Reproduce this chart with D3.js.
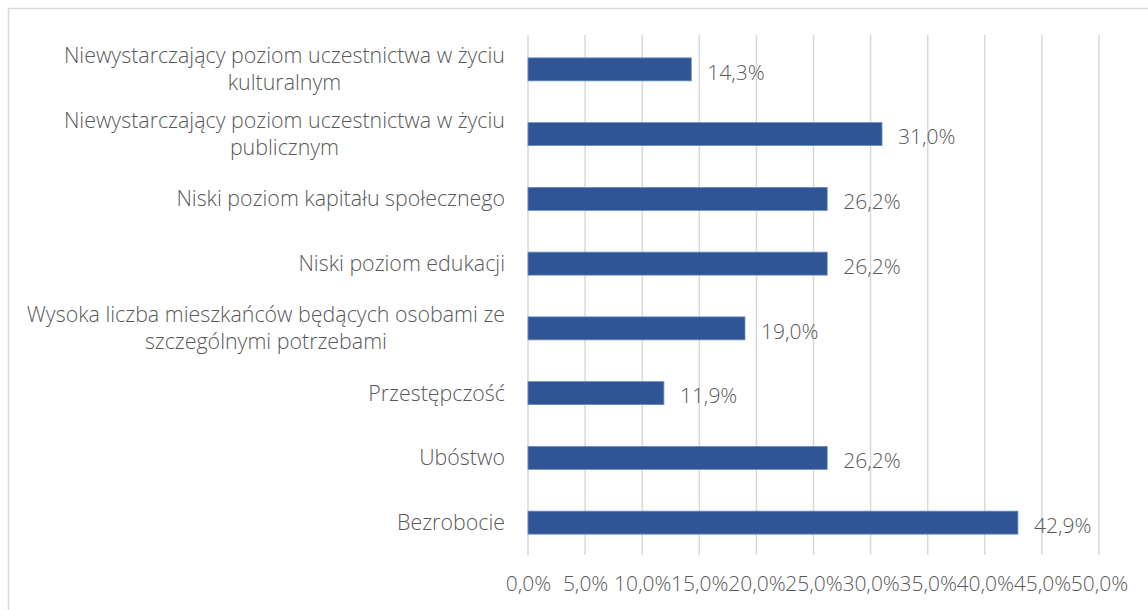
<!DOCTYPE html>
<html>
<head>
<meta charset="utf-8">
<script src="https://cdn.jsdelivr.net/npm/d3@7"></script>
<style>
  html, body { margin: 0; padding: 0; background: #fff; }
  svg { display: block; }
  text { font-family: "Open Sans", "Noto Sans", sans-serif; fill: #595959; font-weight: 300; }
</style>
</head>
<body>
<svg id="chart" width="1148" height="610"></svg>
<script>
const categories = [
  ["Niewystarczający poziom uczestnictwa w życiu", "kulturalnym"],
  ["Niewystarczający poziom uczestnictwa w życiu", "publicznym"],
  ["Niski poziom kapitału społecznego"],
  ["Niski poziom edukacji"],
  ["Wysoka liczba mieszkańców będących osobami ze", "szczególnymi potrzebami"],
  ["Przestępczość"],
  ["Ubóstwo"],
  ["Bezrobocie"]
];
const values = [14.3, 31.0, 26.2, 26.2, 19.0, 11.9, 26.2, 42.9];
const xTicks = [0, 5, 10, 15, 20, 25, 30, 35, 40, 45, 50];

const fmt = v => d3.format(".1f")(v).replace(".", ",") + "%";
const FS = "21.4px";
const FSV = "21px";

const svg = d3.select("#chart");

// outer chart frame (partially cropped)
svg.append("path")
  .attr("d", "M8.5,610 L8.5,8.5 L1148,8.5")
  .attr("fill", "none").attr("stroke", "#d9d9d9").attr("stroke-width", 1.5);

// cropped title fragments
svg.append("text").attr("x", 26).attr("y", -9).text("ę")
  .style("fill", "#2f5597").style("font-size", "18px").style("font-weight", "bold");
svg.append("text").attr("x", 176).attr("y", -9).text("ę")
  .style("fill", "#2f5597").style("font-size", "18px").style("font-weight", "bold");

const x = d3.scaleLinear().domain([0, 50]).range([528, 1099]);
const y = d3.scaleBand().domain(d3.range(categories.length)).range([37, 555]).padding(0);
const barH = y.bandwidth() * 0.355;

// gridlines
svg.append("g").selectAll("line").data(xTicks).join("line")
  .attr("x1", d => x(d)).attr("x2", d => x(d))
  .attr("y1", 35).attr("y2", 555)
  .attr("stroke", "#d9d9d9").attr("stroke-width", 1.5);

// x axis labels
const xAxis = d3.axisBottom(x).tickValues(xTicks).tickFormat(fmt).tickSize(0).tickPadding(0);
const xg = svg.append("g").attr("transform", "translate(0,584)").call(xAxis);
xg.select(".domain").remove();
xg.selectAll("text").style("font-size", FSV).style("fill", "#595959")
  .style("font-family", '"Open Sans", sans-serif').style("font-weight", 300)
  .attr("dy", "0.35em").attr("y", 0);

// bars
svg.append("g").selectAll("rect").data(values).join("rect")
  .attr("x", x(0))
  .attr("y", (d, i) => y(i) + y.bandwidth() / 2 - barH / 2)
  .attr("width", d => x(d) - x(0))
  .attr("height", barH)
  .attr("fill", "#2f5597")
  .attr("stroke", "#6d8cc4").attr("stroke-width", 0.8);

// value labels
svg.append("g").selectAll("text").data(values).join("text")
  .attr("x", d => x(d) + 16)
  .attr("y", (d, i) => y(i) + y.bandwidth() / 2 + 3)
  .attr("dy", "0.35em")
  .style("font-size", FSV)
  .text(d => fmt(d));

// category labels
const lineH = 27;
const labRight = 505;
const lg = svg.append("g");
categories.forEach((lines, i) => {
  const cy = y(i) + y.bandwidth() / 2;
  const t = lg.append("text").style("font-size", FS).attr("text-anchor", "middle");
  const n = lines.length;
  const spans = lines.map((ln, k) => t.append("tspan").text(ln)
    .attr("y", cy + (k - (n - 1) / 2) * lineH).attr("dy", "0.35em"));
  const w = d3.max(spans, s => s.node().getComputedTextLength());
  spans.forEach(s => s.attr("x", labRight - w / 2));
});
</script>
</body>
</html>
